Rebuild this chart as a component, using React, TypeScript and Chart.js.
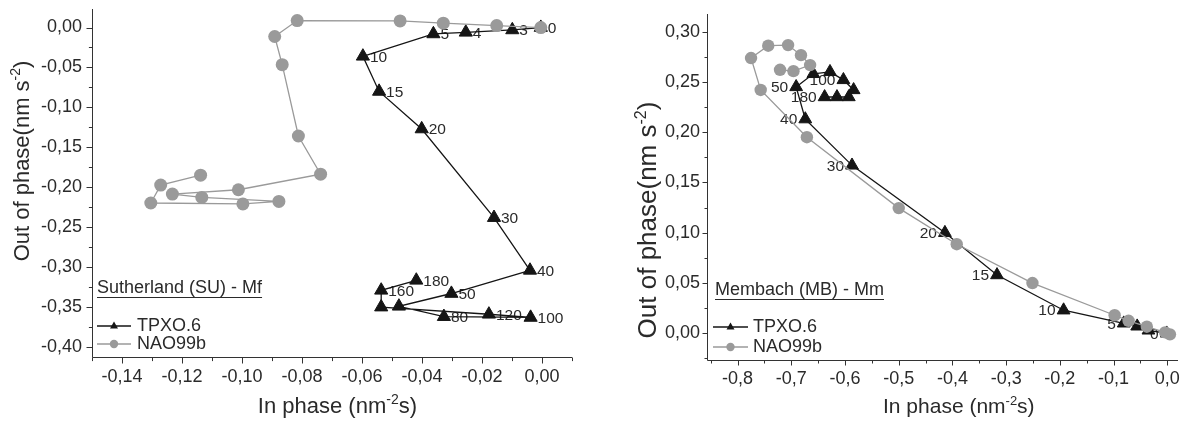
import React, { useEffect, useRef } from 'react';
import { Chart, registerables } from 'chart.js';
Chart.register(...registerables);

const FONT = '"Liberation Sans", Arial, Helvetica, sans-serif';
const BLACK = '#151515';
const GRAY = '#9a9a9a';
const TEXT = '#2a2a2a';

// ---------- Left panel: Sutherland (SU) - Mf ----------
const suPeriodLabels = ['0', '3', '4', '5', '10', '15', '20', '30', '40', '50', '', '80', '100', '120', '', '160', '180'];
const suTpxoX = [-0.0004, -0.0099, -0.0254, -0.0362, -0.0597, -0.0543, -0.0401, -0.016, -0.004, -0.0302, -0.0477, -0.0327, -0.0038, -0.0177, -0.0536, -0.0536, -0.0419];
const suTpxoY = [0.0, -0.003, -0.006, -0.008, -0.036, -0.08, -0.127, -0.238, -0.304, -0.333, -0.349, -0.362, -0.363, -0.359, -0.35, -0.329, -0.3165];
const suNaoX = [-0.0004, -0.0151, -0.0329, -0.0473, -0.0816, -0.0891, -0.0866, -0.0812, -0.0738, -0.1012, -0.1232, -0.1134, -0.0877, -0.0997, -0.1304, -0.1271, -0.1138];
const suNaoY = [0.0, 0.0025, 0.0054, 0.0083, 0.0087, -0.0112, -0.0465, -0.1358, -0.1836, -0.2031, -0.2085, -0.2127, -0.2177, -0.2209, -0.2197, -0.1973, -0.1848];
const suXTicks = [-0.14, -0.12, -0.1, -0.08, -0.06, -0.04, -0.02, 0.0];
const suYTicks = [0.0, -0.05, -0.1, -0.15, -0.2, -0.25, -0.3, -0.35, -0.4];

// ---------- Right panel: Membach (MB) - Mm ----------
const mbPeriodLabels = ['0', '', '', '5', '10', '15', '20', '30', '40', '50', '', '', '100', '', '', '', '180'];
const mbTpxoX = [-0.001, -0.035, -0.056, -0.081, -0.193, -0.317, -0.414, -0.587, -0.674, -0.691, -0.659, -0.628, -0.603, -0.584, -0.593, -0.615, -0.638];
const mbTpxoY = [0.0, 0.003, 0.007, 0.01, 0.023, 0.058, 0.1, 0.167, 0.213, 0.245, 0.258, 0.26, 0.252, 0.242, 0.235, 0.235, 0.235];
const mbNaoX = [0.005, -0.004, -0.038, -0.072, -0.098, -0.251, -0.392, -0.5, -0.671, -0.757, -0.775, -0.743, -0.706, -0.682, -0.665, -0.696, -0.721];
const mbNaoY = [-0.001, 0.001, 0.0066, 0.0125, 0.018, 0.05, 0.0886, 0.1245, 0.195, 0.242, 0.2737, 0.286, 0.2866, 0.2766, 0.2667, 0.2607, 0.262];
const mbXTicks = [-0.8, -0.7, -0.6, -0.5, -0.4, -0.3, -0.2, -0.1, 0.0];
const mbYTicks = [0.0, 0.05, 0.1, 0.15, 0.2, 0.25, 0.3];

type Part = { t: string; sup?: boolean };

function drawRich(ctx: CanvasRenderingContext2D, parts: Part[], size: number, x: number, y: number, align: 'left' | 'center' | 'right') {
  const nf = `${size}px ${FONT}`;
  const sf = `${Math.round(size * 0.62)}px ${FONT}`;
  let total = 0;
  const widths = parts.map((p) => {
    ctx.font = p.sup ? sf : nf;
    const w = ctx.measureText(p.t).width;
    total += w;
    return w;
  });
  let cx = align === 'center' ? x - total / 2 : align === 'right' ? x - total : x;
  ctx.textAlign = 'left';
  ctx.textBaseline = 'alphabetic';
  parts.forEach((p, i) => {
    ctx.font = p.sup ? sf : nf;
    ctx.fillText(p.t, cx, p.sup ? y - size * 0.4 : y);
    cx += widths[i];
  });
}

type PanelCfg = {
  width: number;
  height: number;
  area: { left: number; right: number; top: number; bottom: number };
  xMin: number; xMax: number; yMin: number; yMax: number;
  xTicks: number[]; yTicks: number[];
  xDec: number; yDec: number;
  xMinor: number; yMinor: number;
  tickLen: number; tickPad: number;
  tpxoX: number[]; tpxoY: number[]; naoX: number[]; naoY: number[];
  labels: string[]; labelSide: 'left' | 'right';
  triR: number; circR: number;
  note: { text: string; x: number; y: number };
  legend: { x1: number; x2: number; textX: number; y1: number; y2: number };
  yTitle: { x: number; y: number; size: number };
  xTitle: { x: number; y: number; size: number; align: 'left' | 'center' | 'right' };
};

const fmt = (v: number, d: number) => {
  const r = Math.abs(v) < 1e-9 ? 0 : v;
  return r.toFixed(d).replace('.', ',');
};

function minorList(min: number, max: number, step: number, majors: number[]) {
  const out: number[] = [];
  const start = Math.ceil(min / step - 1e-6);
  const end = Math.floor(max / step + 1e-6);
  for (let k = start; k <= end; k++) {
    const v = k * step;
    if (!majors.some((m) => Math.abs(m - v) < step * 0.01)) out.push(v);
  }
  return out;
}

function Panel({ cfg, left }: { cfg: PanelCfg; left: number }) {
  const ref = useRef<HTMLCanvasElement | null>(null);
  useEffect(() => {
    const canvas = ref.current!;
    const c = cfg;
    const decor = {
      id: 'decor',
      beforeDatasetsDraw(chart: any) {
        const ctx: CanvasRenderingContext2D = chart.ctx;
        const meta = chart.getDatasetMeta(1);
        ctx.save();
        ctx.fillStyle = TEXT;
        ctx.font = `15.5px ${FONT}`;
        ctx.textBaseline = 'middle';
        ctx.textAlign = c.labelSide === 'right' ? 'left' : 'right';
        meta.data.forEach((pt: any, i: number) => {
          const t = c.labels[i];
          if (!t) return;
          const dx = c.labelSide === 'right' ? 7 : -8;
          ctx.fillText(t, pt.x + dx, pt.y + 1);
        });
        ctx.restore();
      },
      afterDraw(chart: any) {
        const ctx: CanvasRenderingContext2D = chart.ctx;
        const a = chart.chartArea;
        const xs = chart.scales.x;
        const ys = chart.scales.y;
        ctx.save();
        ctx.strokeStyle = '#333';
        ctx.lineWidth = 1;
        const L = Math.round(a.left) + 0.5;
        const B = Math.round(a.bottom) + 0.5;
        ctx.beginPath();
        ctx.moveTo(L, Math.round(a.top));
        ctx.lineTo(L, B);
        ctx.lineTo(Math.round(a.right), B);
        c.xTicks.forEach((v) => {
          const px = Math.round(xs.getPixelForValue(v)) + 0.5;
          ctx.moveTo(px, B);
          ctx.lineTo(px, B + c.tickLen);
        });
        minorList(c.xMin, c.xMax, c.xMinor, c.xTicks).forEach((v) => {
          const px = Math.round(xs.getPixelForValue(v)) + 0.5;
          ctx.moveTo(px, B);
          ctx.lineTo(px, B + c.tickLen * 0.6);
        });
        c.yTicks.forEach((v) => {
          const py = Math.round(ys.getPixelForValue(v)) + 0.5;
          ctx.moveTo(L, py);
          ctx.lineTo(L - c.tickLen, py);
        });
        minorList(c.yMin, c.yMax, c.yMinor, c.yTicks).forEach((v) => {
          const py = Math.round(ys.getPixelForValue(v)) + 0.5;
          ctx.moveTo(L, py);
          ctx.lineTo(L - c.tickLen * 0.6, py);
        });
        ctx.stroke();

        ctx.fillStyle = TEXT;
        ctx.save();
        ctx.translate(c.yTitle.x, c.yTitle.y);
        ctx.rotate(-Math.PI / 2);
        drawRich(ctx, [{ t: 'Out of phase(nm s' }, { t: '-2', sup: true }, { t: ')' }], c.yTitle.size, 0, c.yTitle.size * 0.35, 'center');
        ctx.restore();
        drawRich(ctx, [{ t: 'In phase (nm' }, { t: '-2', sup: true }, { t: 's)' }], c.xTitle.size, c.xTitle.x, c.xTitle.y + c.xTitle.size * 0.35, c.xTitle.align);

        ctx.font = `18px ${FONT}`;
        ctx.textAlign = 'left';
        ctx.textBaseline = 'middle';
        ctx.fillText(c.note.text, c.note.x, c.note.y);
        const w = ctx.measureText(c.note.text).width;
        ctx.beginPath();
        ctx.strokeStyle = TEXT;
        ctx.lineWidth = 1;
        ctx.moveTo(c.note.x, Math.round(c.note.y + 9) + 0.5);
        ctx.lineTo(c.note.x + w, Math.round(c.note.y + 9) + 0.5);
        ctx.stroke();

        const lg = c.legend;
        const mid = (lg.x1 + lg.x2) / 2;
        ctx.lineWidth = 1.3;
        ctx.strokeStyle = BLACK;
        ctx.beginPath();
        ctx.moveTo(lg.x1, lg.y1);
        ctx.lineTo(lg.x2, lg.y1);
        ctx.stroke();
        ctx.fillStyle = BLACK;
        ctx.beginPath();
        ctx.moveTo(mid, lg.y1 - 4.5);
        ctx.lineTo(mid + 4, lg.y1 + 2.5);
        ctx.lineTo(mid - 4, lg.y1 + 2.5);
        ctx.closePath();
        ctx.fill();
        ctx.strokeStyle = GRAY;
        ctx.beginPath();
        ctx.moveTo(lg.x1, lg.y2);
        ctx.lineTo(lg.x2, lg.y2);
        ctx.stroke();
        ctx.fillStyle = GRAY;
        ctx.beginPath();
        ctx.arc(mid, lg.y2, 4.2, 0, Math.PI * 2);
        ctx.fill();
        ctx.fillStyle = TEXT;
        ctx.font = `18px ${FONT}`;
        ctx.fillText('TPXO.6', lg.textX, lg.y1);
        ctx.fillText('NAO99b', lg.textX, lg.y2);
        ctx.restore();
      },
    };

    const chart = new Chart(canvas, {
      type: 'scatter',
      data: {
        datasets: [
          {
            label: 'NAO99b',
            data: c.naoX.map((x, i) => ({ x, y: c.naoY[i] })),
            showLine: true,
            borderColor: GRAY,
            borderWidth: 1.3,
            backgroundColor: GRAY,
            pointStyle: 'circle',
            pointRadius: c.circR,
            pointBorderWidth: 0,
            pointBackgroundColor: GRAY,
            tension: 0,
          },
          {
            label: 'TPXO.6',
            data: c.tpxoX.map((x, i) => ({ x, y: c.tpxoY[i] })),
            showLine: true,
            borderColor: BLACK,
            borderWidth: 1.3,
            backgroundColor: BLACK,
            pointStyle: 'triangle',
            pointRadius: c.triR,
            pointBorderWidth: 1,
            pointBorderColor: BLACK,
            pointBackgroundColor: BLACK,
            tension: 0,
          },
        ],
      },
      options: {
        animation: false,
        responsive: false,
        maintainAspectRatio: false,
        events: [],
        layout: {
          padding: {
            left: 0,
            top: c.area.top,
            right: c.width - c.area.right,
            bottom: 0,
          },
        },
        plugins: { legend: { display: false }, tooltip: { enabled: false } },
        scales: {
          x: {
            type: 'linear',
            position: 'bottom',
            min: c.xMin,
            max: c.xMax,
            afterBuildTicks: (s: any) => {
              s.ticks = c.xTicks.map((v) => ({ value: v }));
            },
            afterFit: (s: any) => {
              s.height = c.height - c.area.bottom;
              s.paddingLeft = 0;
              s.paddingRight = 0;
            },
            grid: { display: true, drawOnChartArea: false, drawTicks: true, tickLength: c.tickLen, color: 'rgba(0,0,0,0)' },
            border: { display: false },
            ticks: {
              autoSkip: false,
              maxRotation: 0,
              padding: 3,
              color: TEXT,
              font: { family: FONT, size: 18 },
              callback: (v: any) => fmt(Number(v), c.xDec),
            },
          },
          y: {
            type: 'linear',
            position: 'left',
            min: c.yMin,
            max: c.yMax,
            afterBuildTicks: (s: any) => {
              s.ticks = c.yTicks.map((v) => ({ value: v }));
            },
            afterFit: (s: any) => {
              s.width = c.area.left;
              s.paddingTop = 0;
              s.paddingBottom = 0;
            },
            grid: { display: true, drawOnChartArea: false, drawTicks: true, tickLength: c.tickLen, color: 'rgba(0,0,0,0)' },
            border: { display: false },
            ticks: {
              autoSkip: false,
              padding: c.tickPad,
              color: TEXT,
              font: { family: FONT, size: 18 },
              callback: (v: any) => fmt(Number(v), c.yDec),
            },
          },
        },
      },
      plugins: [decor],
    } as any);
    return () => chart.destroy();
  }, [cfg]);
  return (
    <canvas
      ref={ref}
      width={cfg.width}
      height={cfg.height}
      style={{ position: 'absolute', left, top: 0, width: cfg.width, height: cfg.height, display: 'block' }}
    />
  );
}

const leftCfg: PanelCfg = {
  width: 600,
  height: 421,
  area: { left: 92, right: 572, top: 7, bottom: 357 },
  xMin: -0.15, xMax: 0.01, yMin: -0.4125, yMax: 0.0237,
  xTicks: suXTicks, yTicks: suYTicks, xDec: 2, yDec: 2,
  xMinor: 0.01, yMinor: 0.025,
  tickLen: 6, tickPad: 4,
  tpxoX: suTpxoX, tpxoY: suTpxoY, naoX: suNaoX, naoY: suNaoY,
  labels: suPeriodLabels, labelSide: 'right',
  triR: 7.6, circR: 6.5,
  note: { text: 'Sutherland (SU) - Mf', x: 97, y: 288 },
  legend: { x1: 97, x2: 131, textX: 137, y1: 326, y2: 344 },
  yTitle: { x: 21, y: 161, size: 22 },
  xTitle: { x: 417, y: 405, size: 22, align: 'right' },
};

const rightCfg: PanelCfg = {
  width: 597,
  height: 421,
  area: { left: 107, right: 578, top: 14, bottom: 360 },
  xMin: -0.857, xMax: 0.02, yMin: -0.0265, yMax: 0.3175,
  xTicks: mbXTicks, yTicks: mbYTicks, xDec: 1, yDec: 2,
  xMinor: 0.05, yMinor: 0.025,
  tickLen: 5, tickPad: 2,
  tpxoX: mbTpxoX, tpxoY: mbTpxoY, naoX: mbNaoX, naoY: mbNaoY,
  labels: mbPeriodLabels, labelSide: 'left',
  triR: 7.4, circR: 6.2,
  note: { text: 'Membach (MB) - Mm', x: 115, y: 290 },
  legend: { x1: 113, x2: 148, textX: 153, y1: 327, y2: 347 },
  yTitle: { x: 47, y: 220, size: 26 },
  xTitle: { x: 283, y: 406, size: 21, align: 'left' },
};

export default function App() {
  return (
    <div style={{ position: 'absolute', left: 0, top: 0, width: 1197, height: 421, background: '#fff', overflow: 'hidden' }}>
      <Panel cfg={leftCfg} left={0} />
      <Panel cfg={rightCfg} left={600} />
    </div>
  );
}
